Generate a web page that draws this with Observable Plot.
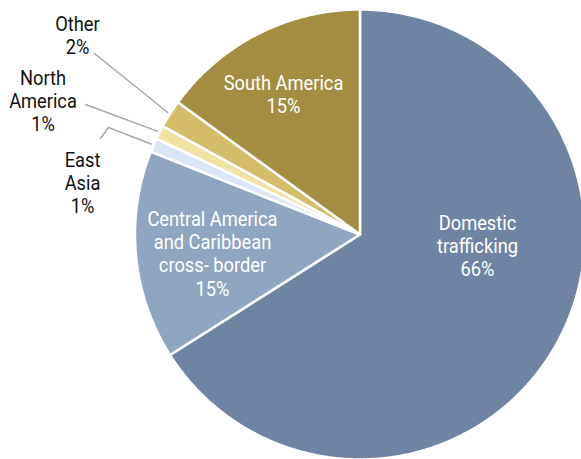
<!DOCTYPE html>
<html>
<head>
<meta charset="utf-8">
<script src="https://cdn.jsdelivr.net/npm/d3@7"></script>
<script src="https://cdn.jsdelivr.net/npm/@observablehq/plot@0.6"></script>
<style>
  html, body { margin: 0; padding: 0; background: #fff; }
  #chart { width: 581px; height: 459px; overflow: hidden; }
</style>
</head>
<body>
<div id="chart"></div>
<script>
// ---- data ----
const categories = ["Domestic trafficking", "Central America and Caribbean cross- border", "East Asia", "North America", "Other", "South America"];
const shares = [66, 15, 1, 1, 2, 15];
const labelNames = ["Domestic\ntrafficking", "Central America\nand Caribbean\ncross- border", "East\nAsia", "North\nAmerica", "Other", "South America"];

// ---- styles / layout ----
const colors = ["#6f84a2", "#8fa5c0", "#dae6f5", "#f0e2a0", "#d4bc68", "#a38d40"];
const inside = [true, true, false, false, false, true];
const labelX = [477, 212, 82, 42.5, 77, 283];
const labelY = [245, 253, 182, 100, 35, 94];
const leaderStarts = [[], [], [[100, 138], [108, 127]], [[85, 104]], [[94, 53]], []];

const W = 581, H = 459;
const cx = 359.5, cy = 234, R = 225;
const condense = 0.87;

const rows = categories.map((c, i) => ({key: c, share: shares[i], i}));
const arcs = d3.pie().sort(null).value(d => d.share)(rows);

const slicePts = arcs.flatMap(p => {
  const key = p.data.key;
  const n = Math.max(2, Math.ceil((p.endAngle - p.startAngle) / 0.005));
  const pts = [{key, x: cx, y: cy}];
  for (let k = 0; k <= n; k++) {
    const a = p.startAngle + (p.endAngle - p.startAngle) * k / n;
    pts.push({key, x: cx + R * Math.sin(a), y: cy - R * Math.cos(a)});
  }
  pts.push({key, x: cx, y: cy});
  return pts;
});

const leaderPts = arcs.flatMap(p => {
  const i = p.data.i;
  if (!leaderStarts[i].length) return [];
  const a = (p.startAngle + p.endAngle) / 2;
  const rr = R * 1.012;
  const pts = leaderStarts[i].map(([x, y]) => ({key: p.data.key, x, y}));
  pts.push({key: p.data.key, x: cx + rr * Math.sin(a), y: cy - rr * Math.cos(a)});
  return pts;
});

const labels = rows.map((r, i) => ({
  key: r.key,
  text: labelNames[i] + "\n" + r.share + "%",
  x: labelX[i], y: labelY[i], inside: inside[i]
}));

const chart = Plot.plot({
  width: W,
  height: H,
  margin: 0,
  x: {domain: [0, W], range: [0, W], axis: null},
  y: {domain: [0, H], range: [0, H], axis: null},
  color: {domain: categories, range: colors},
  style: {fontFamily: "Roboto, sans-serif", background: "white"},
  marks: [
    Plot.line(slicePts, {x: "x", y: "y", z: "key", fill: "key", stroke: "white", strokeWidth: 2.5, strokeLinejoin: "round", curve: "linear"}),
    Plot.line(leaderPts, {x: "x", y: "y", z: "key", stroke: "#a6a6a6", strokeWidth: 1.5}),
    Plot.text(labels.filter(d => d.inside), {x: "x", y: "y", text: "text", fill: "white", fontSize: 21, lineHeight: 1.1, fontFamily: "Roboto", textAnchor: "middle"}),
    Plot.text(labels.filter(d => !d.inside), {x: "x", y: "y", text: "text", fill: "#111", fontSize: 21, lineHeight: 1.1, fontFamily: "Roboto", textAnchor: "middle"})
  ]
});
// narrow the label glyphs (condensed look) around each label's own anchor
chart.querySelectorAll("g[aria-label='text'] > text").forEach(t => {
  const tr = t.getAttribute("transform");
  if (tr) {
    t.setAttribute("transform", tr + ` scale(${condense},1)`);
  } else {
    const x = +t.getAttribute("x") || 0, y = +t.getAttribute("y") || 0;
    t.setAttribute("transform", `translate(${x},${y}) scale(${condense},1) translate(${-x},${-y})`);
  }
});
document.getElementById("chart").appendChild(chart);
</script>
</body>
</html>
